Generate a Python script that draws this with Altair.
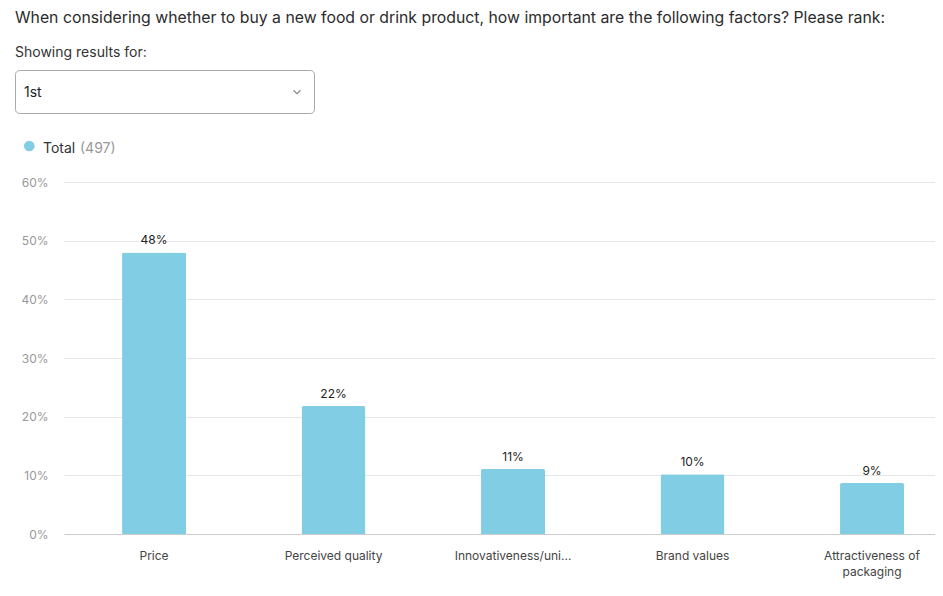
import altair as alt
import pandas as pd

categories = ["Price", "Perceived quality", "Innovativeness/uni...", "Brand values", "Attractiveness of packaging"]
values = [48.0, 21.8, 11.1, 10.2, 8.7]
y_ticks = [0, 10, 20, 30, 40, 50, 60]

title_text = "When considering whether to buy a new food or drink product, how important are the following factors? Please rank:"
filter_label = "Showing results for:"
filter_value = "1st"
series_name = "Total"
series_n = "(497)"

BAR = "#81CEE4"
FONT = "Inter"

df = pd.DataFrame({"cat": categories, "val": values})
df["lbl"] = [f"{round(v)}%" for v in values]

x = alt.X("cat:N", sort=categories, title=None,
          scale=alt.Scale(paddingInner=0.6435, paddingOuter=0.248, align=0.652),
          axis=alt.Axis(labelAngle=0, ticks=False, domainColor="#cccccc", labelColor="#444444",
                        labelFontSize=12, labelPadding=16, labelLineHeight=16, grid=False,
                        labelFont=FONT,
                        labelExpr="datum.label == 'Attractiveness of packaging' ? ['Attractiveness of', 'packaging'] : datum.label"))
y = alt.Y("val:Q", title=None,
          scale=alt.Scale(domain=[0, 60], nice=False),
          axis=alt.Axis(values=y_ticks, labelExpr="datum.value + '%'", domain=False, ticks=False,
                        labelPadding=16, labelColor="#999999", labelFontSize=12, labelFont=FONT,
                        gridColor="#e6e6e6"))

bars = alt.Chart(df).mark_bar(color=BAR, cornerRadiusTopLeft=2, cornerRadiusTopRight=2).encode(x=x, y=y)
labels = alt.Chart(df).mark_text(baseline="middle", dy=-12, fontSize=12, color="#222222", font=FONT).encode(
    x=alt.X("cat:N", sort=categories), y="val:Q", text="lbl:N")

one = pd.DataFrame({"k": [0]})

def txt(s, xv, yv, size, color, align="left"):
    return alt.Chart(one).mark_text(align=align, baseline="alphabetic", fontSize=size, color=color, font=FONT).encode(
        x=alt.value(xv), y=alt.value(yv), text=alt.value(s))

title = txt(title_text, -49, -159.5, 15.8, "#2b2b2b")
flab = txt(filter_label, -49, -125, 14, "#333333")
box = alt.Chart(one).mark_rect(fill="white", stroke="#aaaaaa", strokeWidth=1, cornerRadius=4).encode(
    x=alt.value(-48.5), x2=alt.value(250.5), y=alt.value(-111.5), y2=alt.value(-68.5))
fval = txt(filter_value, -40, -85, 14, "#222222")
chev = alt.Chart(one).mark_point(shape="M-1,-0.5L0,0.5L1,-0.5", size=49, filled=False,
                                 stroke="#555555", strokeWidth=1.1).encode(x=alt.value(233), y=alt.value(-90))
dot = alt.Chart(one).mark_point(shape="circle", size=113, filled=True, fill=BAR, opacity=1, strokeWidth=0).encode(
    x=alt.value(-34.7), y=alt.value(-36))
leg1 = txt(series_name, -21, -29, 14, "#333333")
leg2 = txt(series_n, 16, -29, 14, "#999999")

chart = alt.layer(bars, labels, title, flab, box, fval, chev, dot, leg1, leg2).properties(
    width=871, height=352,
    autosize=alt.AutoSizeParams(type="none"),
    padding={"left": 56, "top": 174, "right": 0, "bottom": 50},
).configure_view(stroke=None)

chart.save("out.html", embed_options={"renderer": "svg", "actions": False})
